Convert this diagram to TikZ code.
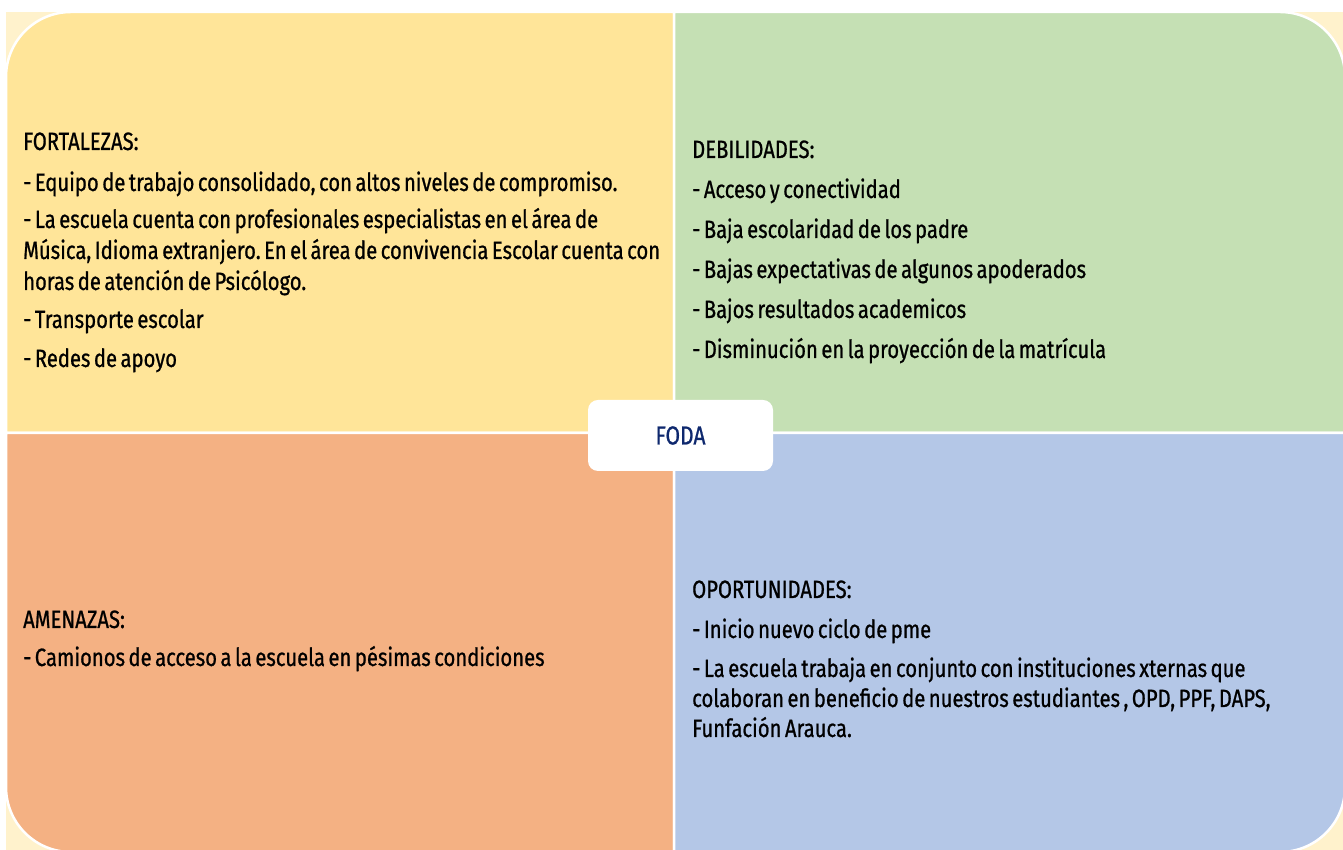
\documentclass[tikz,border=0pt]{standalone}
\usepackage{fontspec}
\setmainfont{Fira Sans}[FakeStretch=0.81, WordSpace=0.65, FakeBold=0.8]
\frenchspacing
\definecolor{bgcream}{RGB}{255,242,204}
\definecolor{qyellow}{RGB}{255,229,153}
\definecolor{qgreen}{RGB}{197,224,180}
\definecolor{qorange}{RGB}{244,177,131}
\definecolor{qblue}{RGB}{180,199,231}
\definecolor{navy}{RGB}{14,40,110}
\begin{document}
\begin{tikzpicture}[x=1pt,y=1pt,
  quad/.style={draw=white, line width=2.5pt},
  txt/.style={anchor=base west, inner sep=0pt, font=\fontsize{25}{28}\selectfont\frenchspacing, text=black},
  centerbox/.style={fill=white, rounded corners=10pt, minimum width=185pt, minimum height=71pt, inner sep=0pt, text=navy, font=\fontsize{26}{28}\selectfont}]
\useasboundingbox (0,0) rectangle (1343,850);
\fill[white] (0,0) rectangle (1343,850);
\fill[bgcream] (6,-5) rectangle (1350,838);
% quadrants
\path[quad, fill=qyellow] (6,417) -- (6,773) arc[start angle=180, end angle=90, radius=65] -- (674,838) -- (674,417) -- cycle;
\path[quad, fill=qgreen] (674,417) -- (674,838) -- (1280,838) arc[start angle=90, end angle=0, radius=65] -- (1345,417) -- cycle;
\path[quad, fill=qorange] (6,417) -- (674,417) -- (674,-2) -- (71,-2) arc[start angle=270, end angle=180, radius=65] -- cycle;
\path[quad, fill=qblue] (674,417) -- (1345,417) -- (1345,63) arc[start angle=0, end angle=-90, radius=65] -- (674,-2) -- cycle;
% FORTALEZAS
\node[txt] (f0) at (23,700) {FORTALEZAS:};
\node[txt] (f1) at (23,659) {- Equipo de trabajo consolidado, con altos niveles de compromiso.};
\node[txt] (f2) at (23,622) {- La escuela cuenta con profesionales especialistas en el área de};
\node[txt] (f3) at (23,591) {Música, Idioma extranjero. En el área de convivencia Escolar cuenta con};
\node[txt] (f4) at (23,560) {horas de atención de Psicólogo.};
\node[txt] (f5) at (23,522) {- Transporte escolar};
\node[txt] (f6) at (23,483) {- Redes de apoyo};
% DEBILIDADES
\node[txt] (d0) at (692,692) {DEBILIDADES:};
\node[txt] (d1) at (692,652) {- Acceso y conectividad};
\node[txt] (d2) at (692,612) {- Baja escolaridad de los padre};
\node[txt] (d3) at (692,572) {- Bajas expectativas de algunos apoderados};
\node[txt] (d4) at (692,532) {- Bajos resultados academicos};
\node[txt] (d5) at (692,492) {- Disminución en la proyección de la matrícula};
% AMENAZAS
\node[txt] (a0) at (23,222) {AMENAZAS:};
\node[txt] (a1) at (23,184) {- Camionos de acceso a la escuela en pésimas condiciones};
% OPORTUNIDADES
\node[txt] (o0) at (692,252) {OPORTUNIDADES:};
\node[txt] (o1) at (692,212) {- Inicio nuevo ciclo de pme};
\node[txt] (o2) at (692,173) {- La escuela trabaja en conjunto con instituciones xternas que};
\node[txt] (o3) at (692,143) {colaboran en beneficio de nuestros estudiantes , OPD, PPF, DAPS,};
\node[txt] (o4) at (692,113) {Funfación Arauca.};
% center
\node[centerbox] (foda) at (680.5,414.5) {FODA};
\end{tikzpicture}
\end{document}
